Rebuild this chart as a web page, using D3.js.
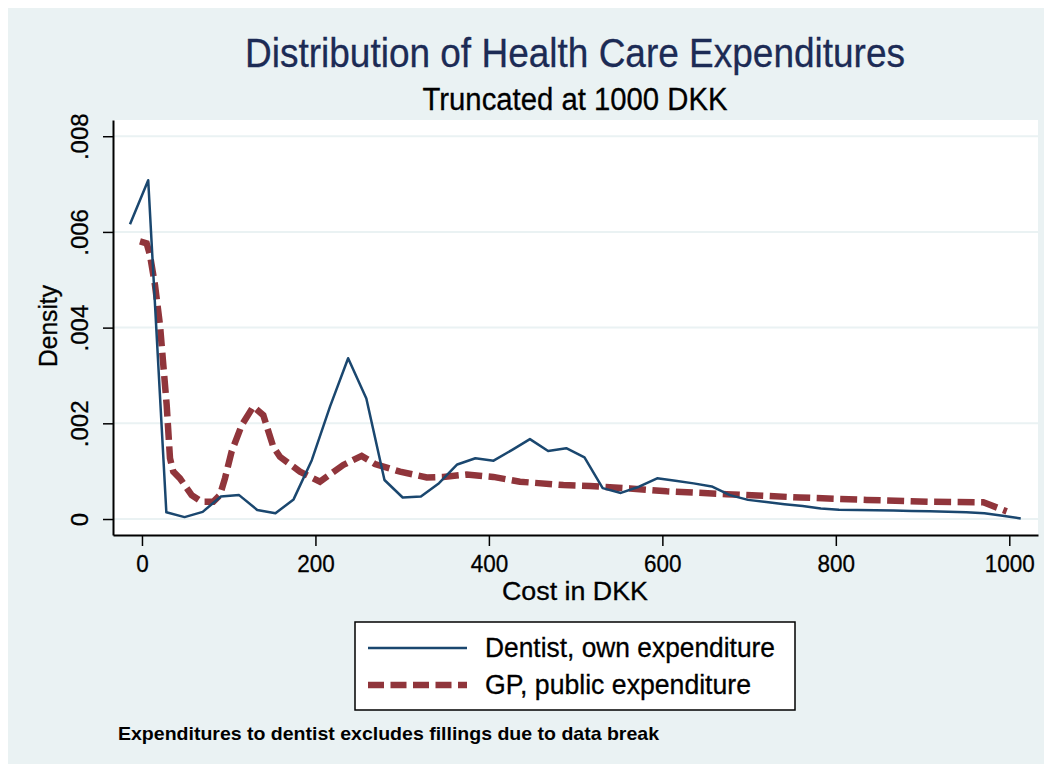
<!DOCTYPE html>
<html><head><meta charset="utf-8">
<script src="https://cdn.jsdelivr.net/npm/d3@7"></script>
<style>html,body{margin:0;padding:0;background:#fff}svg{display:block}</style>
</head><body>
<script>
// ---- data ----
const dentistX = [-13.8,7.2,28.1,49.1,70.0,91.0,112.0,132.9,153.9,174.8,195.8,216.8,237.7,258.7,279.6,300.6,321.6,342.5,363.5,384.4,405.4,426.4,447.3,468.3,489.2,510.2,531.2,552.1,573.1,594.0,615.0,636.0,656.9,677.9,698.8,719.8,740.8,761.7,782.7,803.6,824.6,845.6,866.5,887.5,908.4,929.4,950.4,971.3,992.3,1013.2];
const dentistY = [0.00616,0.00708,0.00014,0.00004,0.00015,0.00047,0.00050,0.00019,0.00012,0.00041,0.00123,0.00235,0.00336,0.00252,0.000815,0.00045,0.00047,0.00075,0.00114,0.00127,0.00122,0.00144,0.00167,0.00142,0.00148,0.00129,0.000645,0.000545,0.000675,0.00085,0.00080,0.000745,0.00068,0.00050,0.00040,0.000355,0.00031,0.00027,0.00022,0.000195,0.00019,0.000185,0.00018,0.00017,0.00016,0.00015,0.00014,0.00012,0.00007,0.00001];
const gpX = [-2.3,5.4,9.2,15.0,20.8,24.6,28.5,32.3,36.1,43.8,57.3,68.8,82.2,89.9,95.7,103.4,115.0,128.3,139.9,151.4,159.1,182.2,205.2,232.1,253.3,268.6,297.5,328.3,347.4,374.4,405.1,435.8,485.8,516.5,562.7,605.0,674.2,758.7,835.6,912.4,970.0,997.0];
const gpY = [0.00580,0.00576,0.00552,0.00489,0.00405,0.00322,0.00238,0.00127,0.00099,0.00085,0.00050,0.00036,0.00036,0.00050,0.00085,0.00141,0.00196,0.00235,0.00217,0.00151,0.00130,0.00099,0.00078,0.00113,0.00132,0.00115,0.00099,0.00087,0.00088,0.00093,0.00088,0.00078,0.00071,0.00069,0.00064,0.00058,0.00052,0.00045,0.00040,0.00036,0.00035,0.00016];
const xTicks = [0,200,400,600,800,1000];
const xTickLabels = ["0","200","400","600","800","1000"];
const yTicks = [0,0.002,0.004,0.006,0.008];
const yTickLabels = ["0",".002",".004",".006",".008"];
const seriesNames = ["Dentist, own expenditure","GP, public expenditure"];
const titleText = "Distribution of Health Care Expenditures";
const subtitleText = "Truncated at 1000 DKK";
const xTitle = "Cost in DKK";
const yTitle = "Density";
const noteText = "Expenditures to dentist excludes fillings due to data break";

// ---- layout ----
const W = 1051, H = 771;
const L = 113, R = 1038, T = 120, B = 535;
const blue = "#1a476f", red = "#90353b", bg = "#eaf2f3";
const font = "'Liberation Sans', Arial, sans-serif";

const svg = d3.select("body").append("svg").attr("width", W).attr("height", H)
  .style("font-family", font);
svg.append("rect").attr("width", W).attr("height", H).attr("fill", "#fff");
svg.append("rect").attr("x", 8).attr("y", 8).attr("width", 1036).attr("height", 756).attr("fill", bg);
svg.append("rect").attr("x", L).attr("y", T).attr("width", R - L).attr("height", B - T).attr("fill", "#fff");

const x = d3.scaleLinear().domain([-33.4, 1033.1]).range([L, R]);
const y = d3.scaleLinear().domain([-0.000334, 0.008339]).range([B, T]);

// gridlines
svg.append("g").selectAll("line").data(yTicks).join("line")
  .attr("x1", L + 1).attr("x2", R).attr("y1", d => y(d)).attr("y2", d => y(d))
  .attr("stroke", bg).attr("stroke-width", 2);

// axes
const xAxis = svg.append("g").attr("transform", `translate(0,${B})`)
  .call(d3.axisBottom(x).tickValues(xTicks).tickFormat((d, i) => xTickLabels[i]).tickSize(11).tickSizeOuter(0));
xAxis.select(".domain").attr("stroke", "#000").attr("stroke-width", 2);
xAxis.selectAll(".tick line").attr("stroke", "#000").attr("stroke-width", 1.5);
xAxis.selectAll(".tick text").attr("y", 37).attr("dy", 0).attr("font-size", 24)
  .attr("font-family", font).attr("fill", "#000").attr("stroke", "#000").attr("stroke-width", 0.3)
  .attr("textLength", (d, i) => xTickLabels[i].length * 12.5).attr("lengthAdjust", "spacingAndGlyphs");

const yAxis = svg.append("g").attr("transform", `translate(${L},0)`)
  .call(d3.axisLeft(y).tickValues(yTicks).tickFormat((d, i) => yTickLabels[i]).tickSize(10).tickSizeOuter(0));
yAxis.select(".domain").attr("stroke", "#000").attr("stroke-width", 2);
yAxis.selectAll(".tick line").attr("stroke", "#000").attr("stroke-width", 1.5);
yAxis.selectAll(".tick text").attr("transform", "rotate(-90)").attr("x", 0).attr("y", -25).attr("dy", 0)
  .attr("text-anchor", "middle").attr("font-size", 24).attr("font-family", font).attr("fill", "#000")
  .attr("stroke", "#000").attr("stroke-width", 0.3);

// lines
const lineGen = d3.line().x(d => x(d[0])).y(d => y(d[1]));
svg.append("path").datum(gpX.map((v, i) => [v, gpY[i]]))
  .attr("d", lineGen).attr("fill", "none").attr("stroke", red).attr("stroke-width", 6.5)
  .attr("stroke-dasharray", "17,6.5");
svg.append("path").datum(dentistX.map((v, i) => [v, dentistY[i]]))
  .attr("d", lineGen).attr("fill", "none").attr("stroke", blue).attr("stroke-width", 2.5)
  .attr("stroke-linejoin", "round");

// titles
svg.append("text").attr("x", 575).attr("y", 67).attr("text-anchor", "middle")
  .attr("font-size", 41).attr("fill", "#1c2b55").attr("stroke", "#1c2b55").attr("stroke-width", 0.3)
  .attr("textLength", 660).attr("lengthAdjust", "spacingAndGlyphs").text(titleText);
svg.append("text").attr("x", 575).attr("y", 110).attr("text-anchor", "middle")
  .attr("font-size", 31).attr("fill", "#000").attr("stroke", "#000").attr("stroke-width", 0.3)
  .attr("textLength", 305).attr("lengthAdjust", "spacingAndGlyphs").text(subtitleText);
svg.append("text").attr("x", 575).attr("y", 600).attr("text-anchor", "middle")
  .attr("font-size", 25).attr("fill", "#000").attr("stroke", "#000").attr("stroke-width", 0.3)
  .attr("textLength", 146).attr("lengthAdjust", "spacingAndGlyphs").text(xTitle);
svg.append("text").attr("transform", "translate(57,326) rotate(-90)").attr("text-anchor", "middle")
  .attr("font-size", 25).attr("fill", "#000").attr("stroke", "#000").attr("stroke-width", 0.3)
  .attr("textLength", 82).attr("lengthAdjust", "spacingAndGlyphs").text(yTitle);

// legend
const lg = svg.append("g");
lg.append("rect").attr("x", 355).attr("y", 622).attr("width", 440).attr("height", 88)
  .attr("fill", "#fff").attr("stroke", "#000").attr("stroke-width", 1.5);
const legY = [648, 685];
const legW = [290, 266];
lg.append("line").attr("x1", 368).attr("x2", 467).attr("y1", legY[0]).attr("y2", legY[0])
  .attr("stroke", blue).attr("stroke-width", 2.7);
lg.append("line").attr("x1", 368).attr("x2", 467).attr("y1", legY[1]).attr("y2", legY[1])
  .attr("stroke", red).attr("stroke-width", 6.5).attr("stroke-dasharray", "16,6.5");
lg.selectAll("text").data(seriesNames).join("text")
  .attr("x", 485).attr("y", (d, i) => legY[i] + 9).attr("font-size", 27).attr("fill", "#000")
  .attr("stroke", "#000").attr("stroke-width", 0.3)
  .attr("textLength", (d, i) => legW[i]).attr("lengthAdjust", "spacingAndGlyphs").text(d => d);

// note
svg.append("text").attr("x", 118).attr("y", 740).attr("font-size", 19).attr("font-weight", "bold")
  .attr("fill", "#000").attr("textLength", 541).attr("lengthAdjust", "spacingAndGlyphs").text(noteText);
</script>
</body></html>
